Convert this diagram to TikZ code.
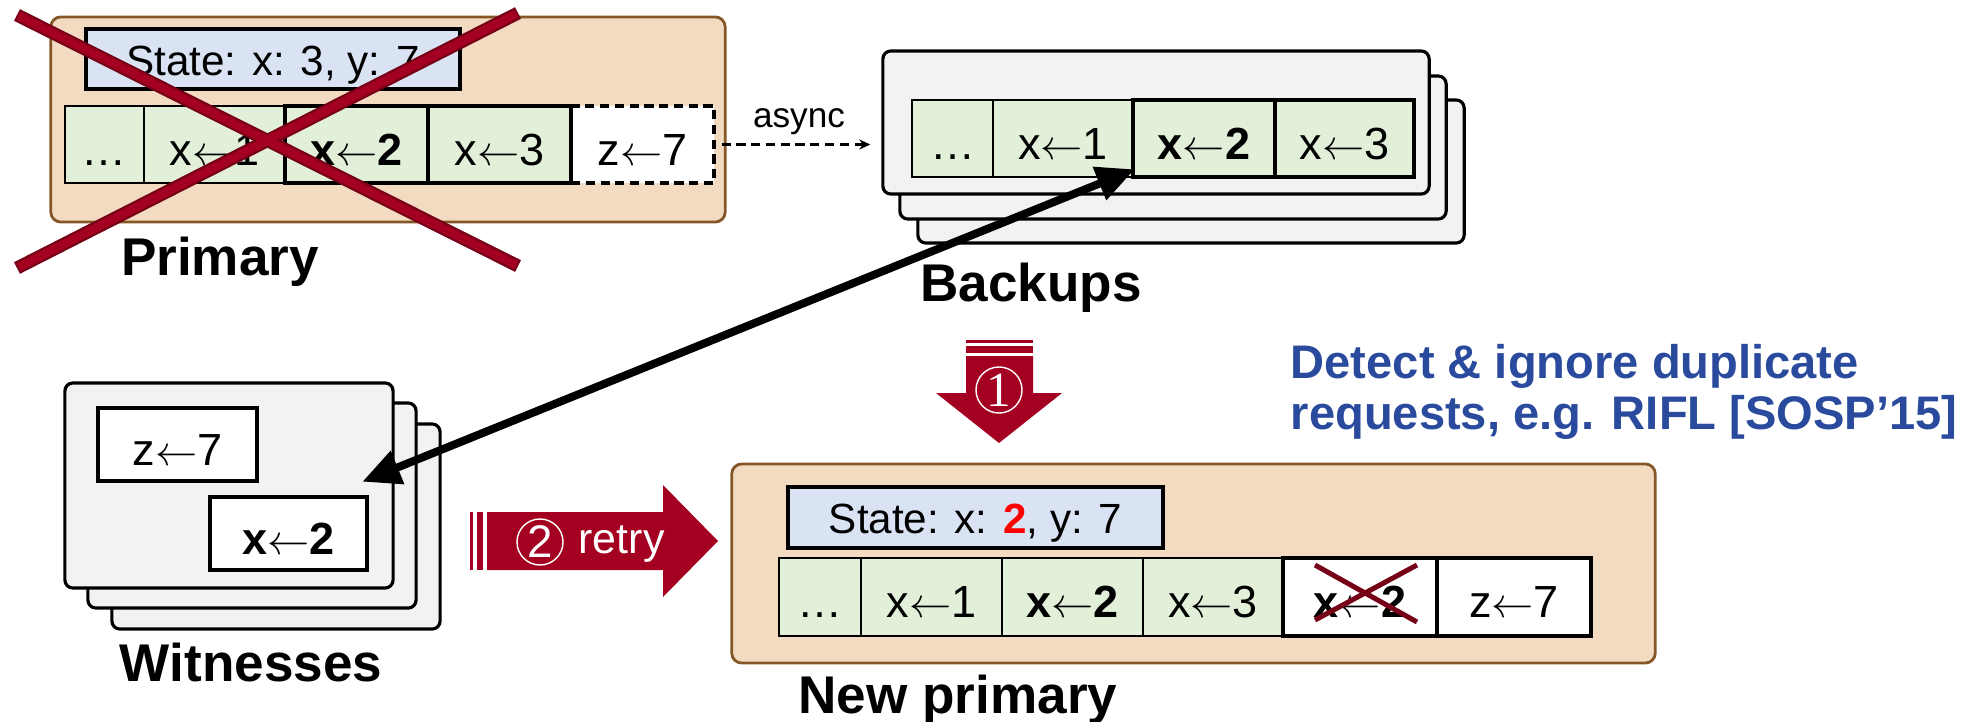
\documentclass[tikz,border=0pt]{standalone}
\usepackage{fontspec}
\setmainfont{Liberation Sans}
\newfontfamily\numfont{Liberation Serif}
\usetikzlibrary{arrows.meta,calc}

\definecolor{peach}{RGB}{242,219,193}
\definecolor{peachedge}{RGB}{133,87,40}
\definecolor{stateblue}{RGB}{218,227,243}
\definecolor{loggreen}{RGB}{226,240,217}
\definecolor{stackgray}{RGB}{242,242,242}
\definecolor{darkred}{RGB}{164,0,33}
\definecolor{crossred}{RGB}{118,0,22}
\definecolor{noteblue}{RGB}{42,75,157}

% long thin assignment arrow
\newcommand{\assign}{\ensuremath{\leftarrow}}

\tikzset{
  server/.style={draw=peachedge, line width=0.8pt, fill=peach, rounded corners=0.1cm},
  replica/.style={draw=black, line width=0.9pt, fill=stackgray, rounded corners=0.08cm},
  statebox/.style={draw=black, line width=1.2pt, fill=stateblue, inner sep=0pt,
    text height=0.32cm, text depth=0cm, font=\fontsize{12}{14}\selectfont},
  cell/.style={draw=black, line width=0.6pt, fill=loggreen, inner sep=0pt,
    minimum height=0.77cm, text height=0.41cm, text depth=0cm,
    font=\fontsize{12.8}{15}\selectfont},
  hotcell/.style={cell, line width=1.3pt},
  pendcell/.style={cell, fill=white, line width=1.3pt},
  dashcell/.style={cell, fill=white, line width=0.9pt, dash pattern=on 2.6pt off 1.6pt},
  role/.style={font=\bfseries\fontsize{15.1}{18}\selectfont, anchor=base, inner sep=0pt},
  stepnum/.style={circle, draw=white, line width=0.4pt, text=white, inner sep=0pt,
    minimum size=0.46cm, font=\fontsize{13}{13}\selectfont},
  note/.style={text=noteblue, anchor=base west, inner sep=0pt,
    font=\bfseries\fontsize{13.4}{16}\selectfont},
}

\begin{document}
\begin{tikzpicture}[x=0.01cm, y=-0.01cm]
    \useasboundingbox (0,0) rectangle (1988,721);

    % 1. Old primary with its log
    \node[server, minimum width=6.74cm, minimum height=2.05cm] (primary) at (388,119.5) {};
    \node[statebox, minimum width=3.74cm, minimum height=0.60cm] (pstate) at (273,59) {State: x: 3, y: 7};
    \foreach \c/\w/\t/\n in {104.5/0.79cm/…/p0, 214.5/1.41cm/x\assign1/p1}
        \node[cell, minimum width=\w] (\n) at (\c,144.5) {\t};
    \node[dashcell, minimum width=1.43cm] (pz) at (642.5,144.5) {z\assign7};
    \node[hotcell, minimum width=1.43cm] (p2) at (356.5,144.5) {\textbf{x}\assign\textbf{2}};
    \node[hotcell, minimum width=1.43cm] (p3) at (499.5,144.5) {x\assign3};
    \node[role] (plabel) at (220,275) {Primary};

    % 2. Backups (stack of three)
    \node[replica, minimum width=5.46cm, minimum height=1.43cm] (bback) at (1191,171.5) {};
    \node[replica, minimum width=5.46cm, minimum height=1.43cm] (bmid) at (1173,147.5) {};
    \node[replica, minimum width=5.46cm, minimum height=1.43cm] (bfront) at (1156,122.5) {};
    \foreach \c/\w/\t/\n in {952.5/0.81cm/…/b0, 1063/1.40cm/x\assign1/b1}
        \node[cell, minimum width=\w] (\n) at (\c,138.5) {\t};
    \node[hotcell, minimum width=1.42cm] (b2) at (1204,138.5) {\textbf{x}\assign\textbf{2}};
    \node[hotcell, minimum width=1.39cm] (b3) at (1344.5,138.5) {x\assign3};
    \node[role] (blabel) at (1031,301) {Backups};

    % async replication
    \draw[line width=0.7pt, dash pattern=on 2.6pt off 1.6pt, -{Stealth[length=0.11cm, width=0.1cm]},
        shorten <=0.06cm, shorten >=0.11cm] (pz.east) -- (pz.east -| bfront.west);
    \node[font=\fontsize{10}{12}\selectfont] (async) at (799,122) {async};

    % 3. Witnesses (stack of three)
    \node[replica, minimum width=3.28cm, minimum height=2.05cm] (wback) at (276,526.5) {};
    \node[replica, minimum width=3.28cm, minimum height=2.05cm] (wmid) at (252,505.5) {};
    \node[replica, minimum width=3.28cm, minimum height=2.05cm] (wfront) at (229,485.5) {};
    \node[pendcell, minimum width=1.59cm, minimum height=0.73cm] (wz) at (177.5,444.5) {z\assign7};
    \node[pendcell, minimum width=1.57cm, minimum height=0.73cm] (wx) at (288.5,533.5) {\textbf{x}\assign\textbf{2}};
    \node[role] (wlabel) at (251,681) {Witnesses};

    % 4. New primary
    \node[server, minimum width=9.23cm, minimum height=1.99cm] (newprimary) at (1193.5,563.5) {};
    \node[statebox, minimum width=3.75cm, minimum height=0.61cm] (nstate) at (975.5,517.5)
        {State: x: \textcolor{red}{\textbf{2}}, y: 7};
    \foreach \c/\w/\t/\n in {820/0.82cm/…/n0, 931.5/1.41cm/x\assign1/n1,
            1072.5/1.41cm/{\textbf{x}\assign\textbf{2}}/n2, 1213/1.40cm/x\assign3/n3}
        \node[cell, minimum width=\w, minimum height=0.78cm] (\n) at (\c,597) {\t};
    \node[pendcell, minimum width=1.54cm, minimum height=0.78cm] (n4) at (1360,597) {\textbf{x}\assign\textbf{2}};
    \node[pendcell, minimum width=1.54cm, minimum height=0.78cm] (n5) at (1514,597) {z\assign7};
    \draw[crossred, line width=0.05cm] (1315,565) -- (1417,622);
    \draw[crossred, line width=0.05cm] (1417,565) -- (1315,620);
    \node[role] (nlabel) at (958,713) {New primary};

    % 5. Recovery: backups <-> witnesses
    \coordinate (wtip) at ($(wx.north east)+(-7,-13)$);
    \coordinate (btip) at ($(b2.south west)+(4,-10)$);
    \draw[line width=0.08cm, {Triangle[length=0.38cm, width=0.34cm]}-{Triangle[length=0.38cm, width=0.34cm]}]
        (wtip) -- (btip);

    % 6. Red block arrows
    \fill[darkred] (966,340) rectangle (1033,343);
    \fill[darkred] (966,346) rectangle (1033,353);
    \fill[darkred] (966,356) -- (1033,356) -- (1033,393) -- (1062,393) -- (999,443)
        -- (936,393) -- (966,393) -- cycle;
    \node[stepnum, font=\numfont\fontsize{14}{14}\selectfont] (one) at (999,390) {1};

    \fill[darkred] (470,512) rectangle (473,570);
    \fill[darkred] (477,512) rectangle (483,570);
    \fill[darkred] (487,512) -- (663,512) -- (663,485) -- (718,541) -- (663,597)
        -- (663,570) -- (487,570) -- cycle;
    \node[stepnum] (two) at (540,542) {2};
    \node[anchor=base west, inner sep=0pt, text=white, font=\fontsize{12.2}{14}\selectfont]
        (retry) at (578,553) {retry};

    % 7. Note
    \node[note] (note1) at (1290,378) {Detect \& ignore duplicate};
    \node[note] (note2) at (1290,429) {requests, e.g. RIFL [SOSP’15]};

    % 8. Crash of the old primary
    \draw[crossred, line width=0.13cm] (17,15) -- (518,266);
    \draw[crossred, line width=0.13cm] (518,13) -- (17,268);
    \draw[darkred, line width=0.085cm, shorten <=0.02cm, shorten >=0.02cm] (17,15) -- (518,266);
    \draw[darkred, line width=0.085cm, shorten <=0.02cm, shorten >=0.02cm] (518,13) -- (17,268);
\end{tikzpicture}
\end{document}
